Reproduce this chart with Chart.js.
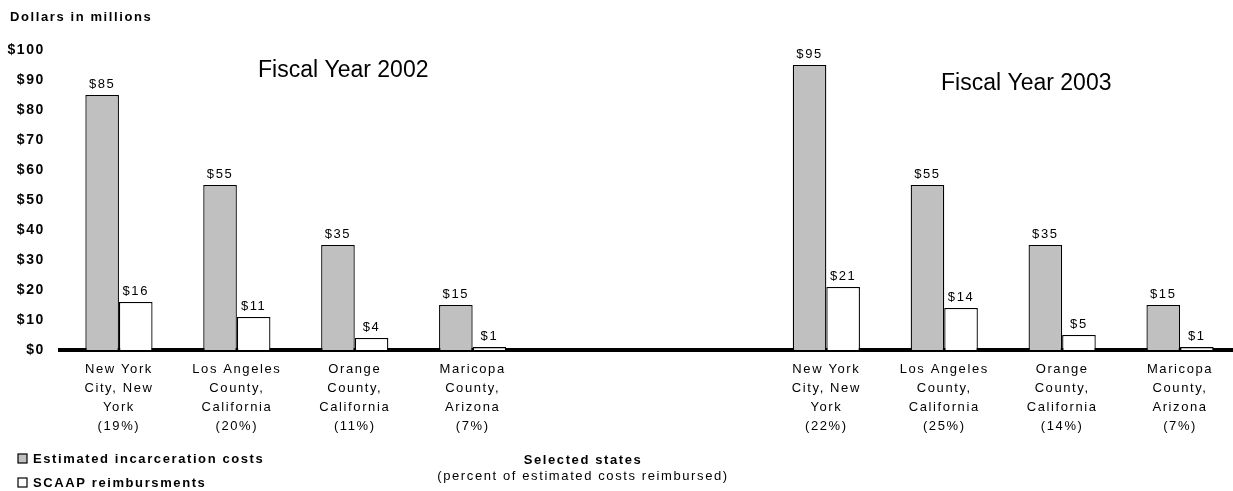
<!DOCTYPE html>
<html>
<head>
<meta charset="utf-8">
<script src="https://cdn.jsdelivr.net/npm/chart.js@4.4.1/dist/chart.umd.min.js"></script>
<style>
  html, body { margin: 0; padding: 0; background: #fff; overflow: hidden; }
  canvas { display: block; }
</style>
</head>
<body>
<canvas id="chart" width="1239" height="491"></canvas>
<script>
// places per fiscal year, with the share of costs reimbursed
const places = [
  ['New York', 'City, New', 'York'],
  ['Los Angeles', 'County,', 'California'],
  ['Orange', 'County,', 'California'],
  ['Maricopa', 'County,', 'Arizona']
];
const pct2002 = ['(19%)', '(20%)', '(11%)', '(7%)'];
const pct2003 = ['(22%)', '(25%)', '(14%)', '(7%)'];

const costs2002 = [85, 55, 35, 15];
const scaap2002 = [16, 11, 4, 1];
const costs2003 = [95, 55, 35, 15];
const scaap2003 = [21, 14, 5, 1];

const yTicks = [0, 10, 20, 30, 40, 50, 60, 70, 80, 90, 100];

// two empty slots keep the years apart
const gap = [null, null];
const labels = [
  ...places.map((p, i) => [...p, pct2002[i]]),
  '', '',
  ...places.map((p, i) => [...p, pct2003[i]])
];
const costs = [...costs2002, ...gap, ...costs2003];
const scaap = [...scaap2002, ...gap, ...scaap2003];

const FONT = "'Liberation Sans', Arial, Helvetica, sans-serif";
const SPACING = '1.6px';

const spacingPlugin = {
  id: 'spacing',
  beforeDraw(chart) { chart.ctx.letterSpacing = SPACING; }
};

// value labels above each bar
const valueLabels = {
  id: 'valueLabels',
  afterDatasetsDraw(chart) {
    const ctx = chart.ctx;
    ctx.save();
    ctx.letterSpacing = SPACING;
    ctx.font = '13px ' + FONT;
    ctx.fillStyle = '#000';
    ctx.textAlign = 'center';
    ctx.textBaseline = 'alphabetic';
    chart.data.datasets.forEach((ds, di) => {
      chart.getDatasetMeta(di).data.forEach((bar, i) => {
        const v = ds.data[i];
        if (v == null) return;
        ctx.fillText('$' + v, bar.x, bar.y - 7);
      });
    });
    ctx.restore();
  }
};

// titles, year captions and legend
const annotations = {
  id: 'annotations',
  afterDraw(chart) {
    const ctx = chart.ctx;
    ctx.save();
    ctx.fillStyle = '#000';
    ctx.textBaseline = 'middle';

    ctx.letterSpacing = SPACING;
    ctx.font = 'bold 13px ' + FONT;
    ctx.textAlign = 'left';
    ctx.fillText('Dollars in millions', 10, 17);

    ctx.letterSpacing = '0px';
    ctx.font = '23px ' + FONT;
    ctx.fillText('Fiscal Year 2002', 258, 71);
    ctx.fillText('Fiscal Year 2003', 941, 84);

    // legend
    ctx.letterSpacing = SPACING;
    ctx.font = 'bold 13px ' + FONT;
    ctx.lineWidth = 1.2;
    ctx.strokeStyle = '#000';
    ctx.fillStyle = '#c0c0c0';
    ctx.fillRect(18, 454, 9, 9);
    ctx.strokeRect(18, 454, 9, 9);
    ctx.fillStyle = '#fff';
    ctx.fillRect(18, 478, 9, 9);
    ctx.strokeRect(18, 478, 9, 9);
    ctx.fillStyle = '#000';
    ctx.fillText('Estimated incarceration costs', 33, 459);
    ctx.fillText('SCAAP reimbursments', 33, 483);

    // x axis title
    ctx.textAlign = 'center';
    ctx.fillText('Selected states', 583, 460);
    ctx.font = '13px ' + FONT;
    ctx.fillText('(percent of estimated costs reimbursed)', 583, 476);
    ctx.restore();
  }
};

new Chart(document.getElementById('chart'), {
  type: 'bar',
  data: {
    labels: labels,
    datasets: [
      {
        label: 'Estimated incarceration costs',
        data: costs,
        backgroundColor: '#c0c0c0',
        borderColor: '#000',
        borderWidth: 1.3,
        borderSkipped: 'bottom'
      },
      {
        label: 'SCAAP reimbursments',
        data: scaap,
        backgroundColor: '#fff',
        borderColor: '#000',
        borderWidth: 1.3,
        borderSkipped: 'bottom'
      }
    ]
  },
  options: {
    responsive: false,
    animation: false,
    devicePixelRatio: 1,
    layout: { padding: { top: 50, right: 0, left: 0, bottom: 0 } },
    plugins: {
      legend: { display: false },
      tooltip: { enabled: false },
      title: { display: false }
    },
    datasets: {
      bar: { categoryPercentage: 0.57, barPercentage: 1.0 }
    },
    scales: {
      x: {
        offset: true,
        grid: { display: false, drawTicks: false },
        border: { display: true, color: '#000', width: 4 },
        ticks: {
          autoSkip: false,
          maxRotation: 0,
          padding: 10,
          color: '#000',
          font: { family: FONT, size: 13, lineHeight: 1.45 }
        },
        afterFit(scale) { scale.height = 141; }
      },
      y: {
        min: 0,
        max: 100,
        grid: { display: false, drawTicks: false },
        border: { display: false },
        afterBuildTicks(scale) { scale.ticks = yTicks.map(v => ({ value: v })); },
        ticks: {
          padding: 15,
          color: '#000',
          font: { family: FONT, size: 14, weight: 'bold' },
          callback: v => '$' + v
        },
        afterFit(scale) { scale.width = 60; }
      }
    }
  },
  plugins: [spacingPlugin, valueLabels, annotations]
});
</script>
</body>
</html>
